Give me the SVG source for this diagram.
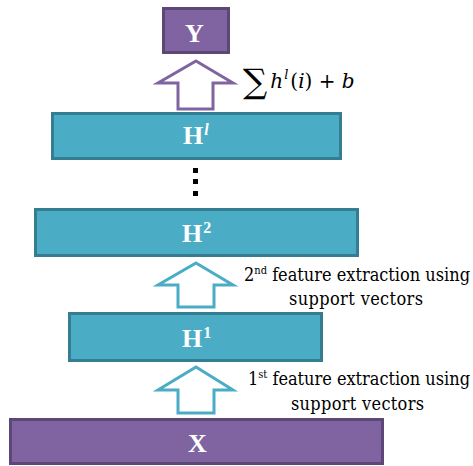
<svg xmlns="http://www.w3.org/2000/svg" width="473" height="466" viewBox="0 0 473 466">
  <defs>
    <style>
      .cyan { fill: #4bacc6; stroke: #357d91; stroke-width: 3; }
      .purple { fill: #8064a2; stroke: #5c4776; stroke-width: 3; }
      .lbl { font-family: "Liberation Serif", "Times New Roman", serif; font-weight: bold; font-size: 26px; fill: #ffffff; }
      .sup { font-size: 16px; }
      .note { font-family: "DejaVu Serif", "Liberation Serif", serif; font-stretch: condensed; font-size: 18px; fill: #000000; }
      .note-sup { font-size: 11px; }
      .arrow-c { fill: #ffffff; stroke: #4bacc6; stroke-width: 3; stroke-linejoin: miter; }
      .arrow-p { fill: #ffffff; stroke: #8064a2; stroke-width: 3; stroke-linejoin: miter; }
      .math { font-family: "DejaVu Serif", "Liberation Serif", serif; font-style: italic; font-size: 20px; fill: #000000; }
    </style>
  </defs>

  <!-- layers -->
  <g id="node-y">
    <rect class="purple" x="163.5" y="8.5" width="65" height="44"/>
    <text class="lbl" x="185" y="42">Y</text>
  </g>
  <g id="node-hl">
    <rect class="cyan" x="52.5" y="113.5" width="288" height="45"/>
    <text class="lbl" x="183" y="144">H<tspan class="sup" font-style="italic" dx="1" dy="-9">l</tspan></text>
  </g>
  <g id="node-h2">
    <rect class="cyan" x="35.5" y="209.5" width="322" height="46"/>
    <text class="lbl" x="182" y="242">H<tspan class="sup" dx="1" dy="-9">2</tspan></text>
  </g>
  <g id="node-h1">
    <rect class="cyan" x="69.5" y="313.5" width="252" height="47"/>
    <text class="lbl" x="182" y="347">H<tspan class="sup" dx="1" dy="-9">1</tspan></text>
  </g>
  <g id="node-x">
    <rect class="purple" x="10.5" y="419.5" width="372" height="44"/>
    <text class="lbl" x="188" y="452">X</text>
  </g>

  <!-- ellipsis between H^l and H^2 -->
  <g id="ellipsis" fill="#000000">
    <rect x="193" y="168" width="5" height="5"/>
    <rect x="193" y="179" width="5" height="5"/>
    <rect x="193" y="191" width="5" height="5"/>
  </g>

  <!-- block arrows -->
  <g id="connectors">
    <polygon class="arrow-p" points="196,61 233,83 213,83 213,109 178,109 178,83 158,83"/>
    <polygon class="arrow-c" points="196,263 233,285 214,285 214,307 178,307 178,285 158,285"/>
    <polygon class="arrow-c" points="196,367 233,390 214,390 214,413 178,413 178,390 158,390"/>
  </g>

  <!-- annotations -->
  <g id="label-sum">
    <text class="math" x="243" y="93"><tspan font-style="normal" font-size="34">∑</tspan><tspan dx="3" dy="-5">h</tspan><tspan font-size="13" dx="1" dy="-9">l</tspan><tspan font-style="normal" dx="2" dy="9">(</tspan><tspan>i</tspan><tspan font-style="normal">) + </tspan><tspan>b</tspan></text>
  </g>
  <g id="label-2nd">
    <text class="note" x="244" y="281" textLength="226" lengthAdjust="spacing">2<tspan class="note-sup" dy="-7">nd</tspan><tspan dy="7"> feature extraction using</tspan></text>
    <text class="note" x="289" y="305" textLength="134" lengthAdjust="spacing">support vectors</text>
  </g>
  <g id="label-1st">
    <text class="note" x="248" y="385" textLength="222" lengthAdjust="spacing">1<tspan class="note-sup" dy="-7">st</tspan><tspan dy="7"> feature extraction using</tspan></text>
    <text class="note" x="291" y="410" textLength="133" lengthAdjust="spacing">support vectors</text>
  </g>
</svg>
